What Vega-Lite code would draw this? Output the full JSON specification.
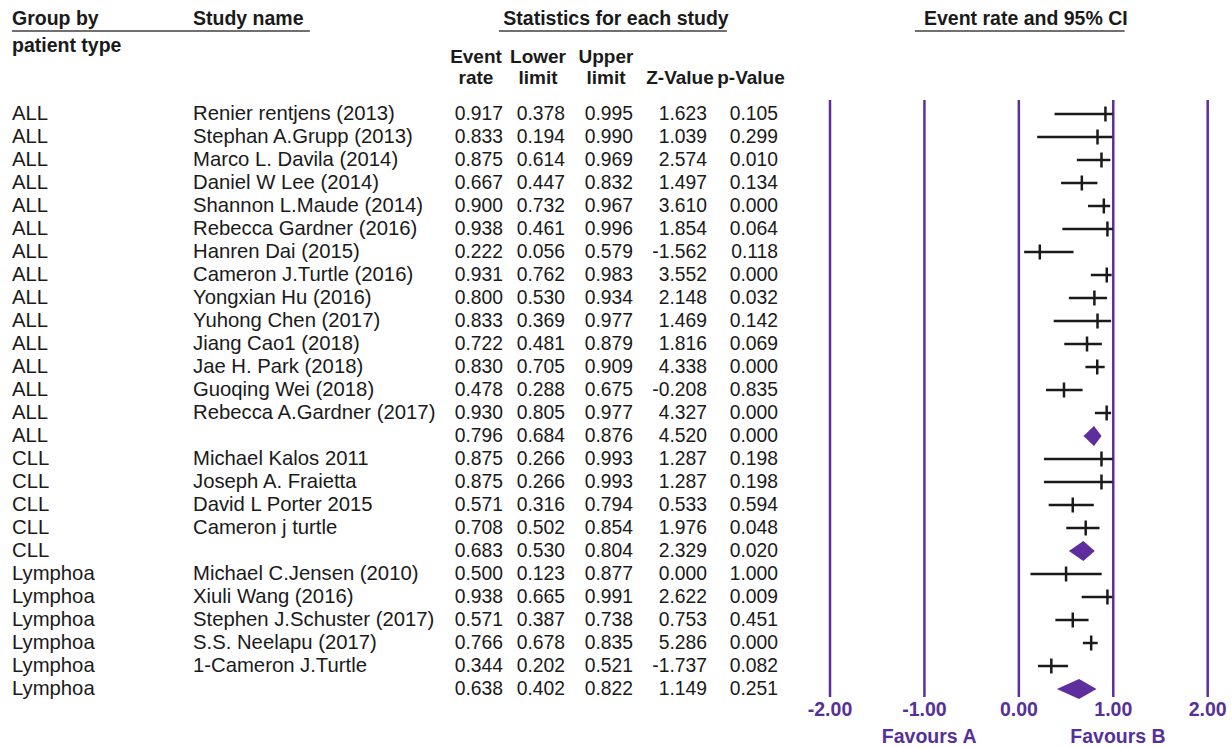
{
  "$schema": "https://vega.github.io/schema/vega-lite/v6.json",
  "width": 1232,
  "height": 748,
  "autosize": {"type": "fit", "contains": "padding"},
  "padding": 0,
  "background": "white",
  "config": {
    "view": {"stroke": null},
    "text": {"font": "Liberation Sans"},
    "locale": {"number": {"decimal": ".", "thousands": ",", "grouping": [3], "currency": ["$", ""], "minus": "-"}}
  },
  "datasets": {
    "studies": [
      {"n": 1, "kind": "study", "group": "ALL", "study": "Renier rentjens (2013)", "rate": 0.917, "lower": 0.378, "upper": 0.995, "z": 1.623, "p": 0.105},
      {"n": 2, "kind": "study", "group": "ALL", "study": "Stephan A.Grupp (2013)", "rate": 0.833, "lower": 0.194, "upper": 0.990, "z": 1.039, "p": 0.299},
      {"n": 3, "kind": "study", "group": "ALL", "study": "Marco L. Davila (2014)", "rate": 0.875, "lower": 0.614, "upper": 0.969, "z": 2.574, "p": 0.010},
      {"n": 4, "kind": "study", "group": "ALL", "study": "Daniel W Lee (2014)", "rate": 0.667, "lower": 0.447, "upper": 0.832, "z": 1.497, "p": 0.134},
      {"n": 5, "kind": "study", "group": "ALL", "study": "Shannon L.Maude (2014)", "rate": 0.900, "lower": 0.732, "upper": 0.967, "z": 3.610, "p": 0.000},
      {"n": 6, "kind": "study", "group": "ALL", "study": "Rebecca Gardner (2016)", "rate": 0.938, "lower": 0.461, "upper": 0.996, "z": 1.854, "p": 0.064},
      {"n": 7, "kind": "study", "group": "ALL", "study": "Hanren Dai (2015)", "rate": 0.222, "lower": 0.056, "upper": 0.579, "z": -1.562, "p": 0.118},
      {"n": 8, "kind": "study", "group": "ALL", "study": "Cameron J.Turtle (2016)", "rate": 0.931, "lower": 0.762, "upper": 0.983, "z": 3.552, "p": 0.000},
      {"n": 9, "kind": "study", "group": "ALL", "study": "Yongxian Hu (2016)", "rate": 0.800, "lower": 0.530, "upper": 0.934, "z": 2.148, "p": 0.032},
      {"n": 10, "kind": "study", "group": "ALL", "study": "Yuhong Chen (2017)", "rate": 0.833, "lower": 0.369, "upper": 0.977, "z": 1.469, "p": 0.142},
      {"n": 11, "kind": "study", "group": "ALL", "study": "Jiang Cao1 (2018)", "rate": 0.722, "lower": 0.481, "upper": 0.879, "z": 1.816, "p": 0.069},
      {"n": 12, "kind": "study", "group": "ALL", "study": "Jae H. Park (2018)", "rate": 0.830, "lower": 0.705, "upper": 0.909, "z": 4.338, "p": 0.000},
      {"n": 13, "kind": "study", "group": "ALL", "study": "Guoqing Wei (2018)", "rate": 0.478, "lower": 0.288, "upper": 0.675, "z": -0.208, "p": 0.835},
      {"n": 14, "kind": "study", "group": "ALL", "study": "Rebecca A.Gardner (2017)", "rate": 0.930, "lower": 0.805, "upper": 0.977, "z": 4.327, "p": 0.000},
      {"n": 15, "kind": "summary", "group": "ALL", "study": "", "rate": 0.796, "lower": 0.684, "upper": 0.876, "z": 4.520, "p": 0.000},
      {"n": 16, "kind": "study", "group": "CLL", "study": "Michael Kalos 2011", "rate": 0.875, "lower": 0.266, "upper": 0.993, "z": 1.287, "p": 0.198},
      {"n": 17, "kind": "study", "group": "CLL", "study": "Joseph A. Fraietta", "rate": 0.875, "lower": 0.266, "upper": 0.993, "z": 1.287, "p": 0.198},
      {"n": 18, "kind": "study", "group": "CLL", "study": "David L Porter 2015", "rate": 0.571, "lower": 0.316, "upper": 0.794, "z": 0.533, "p": 0.594},
      {"n": 19, "kind": "study", "group": "CLL", "study": "Cameron j turtle", "rate": 0.708, "lower": 0.502, "upper": 0.854, "z": 1.976, "p": 0.048},
      {"n": 20, "kind": "summary", "group": "CLL", "study": "", "rate": 0.683, "lower": 0.530, "upper": 0.804, "z": 2.329, "p": 0.020},
      {"n": 21, "kind": "study", "group": "Lymphoa", "study": "Michael C.Jensen (2010)", "rate": 0.500, "lower": 0.123, "upper": 0.877, "z": 0.000, "p": 1.000},
      {"n": 22, "kind": "study", "group": "Lymphoa", "study": "Xiuli Wang (2016)", "rate": 0.938, "lower": 0.665, "upper": 0.991, "z": 2.622, "p": 0.009},
      {"n": 23, "kind": "study", "group": "Lymphoa", "study": "Stephen J.Schuster (2017)", "rate": 0.571, "lower": 0.387, "upper": 0.738, "z": 0.753, "p": 0.451},
      {"n": 24, "kind": "study", "group": "Lymphoa", "study": "S.S. Neelapu (2017)", "rate": 0.766, "lower": 0.678, "upper": 0.835, "z": 5.286, "p": 0.000},
      {"n": 25, "kind": "study", "group": "Lymphoa", "study": "1-Cameron J.Turtle", "rate": 0.344, "lower": 0.202, "upper": 0.521, "z": -1.737, "p": 0.082},
      {"n": 26, "kind": "summary", "group": "Lymphoa", "study": "", "rate": 0.638, "lower": 0.402, "upper": 0.822, "z": 1.149, "p": 0.251}
    ],
    "cols": [
      {"key": "rate", "col": 2, "h1": "Event", "h2": "rate"},
      {"key": "lower", "col": 3, "h1": "Lower", "h2": "limit"},
      {"key": "upper", "col": 4, "h1": "Upper", "h2": "limit"},
      {"key": "z", "col": 5, "h1": "", "h2": "Z-Value"},
      {"key": "p", "col": 6, "h1": "", "h2": "p-Value"}
    ],
    "ticks": [
      {"v": -2, "label": "-2.00"},
      {"v": -1, "label": "-1.00"},
      {"v": 0, "label": "0.00"},
      {"v": 1, "label": "1.00"},
      {"v": 2, "label": "2.00"}
    ],
    "one": [{}]
  },
  "resolve": {"scale": {"x": "independent"}},
  "layer": [
    {
      "layer": [
        {
          "data": {"name": "studies"},
          "mark": {"type": "text", "align": "left", "baseline": "middle", "fontSize": 20.3, "color": "#1a1a1a"},
          "encoding": {
            "x": {"datum": 0, "type": "quantitative", "scale": {"domain": [0, 1, 2, 3, 4, 5, 6], "range": [12, 193, 503, 565, 633, 707, 778], "zero": false, "nice": false}, "axis": null},
            "y": {"field": "n", "type": "quantitative", "scale": {"domain": [-3.9565, 28.565], "reverse": true, "zero": false, "nice": false}, "axis": null},
            "text": {"field": "group"}
          }
        },
        {
          "data": {"name": "studies"},
          "mark": {"type": "text", "align": "left", "baseline": "middle", "fontSize": 20.3, "color": "#1a1a1a"},
          "encoding": {
            "x": {"datum": 1, "type": "quantitative", "axis": null},
            "y": {"field": "n", "type": "quantitative", "axis": null},
            "text": {"field": "study"}
          }
        },
        {
          "data": {"name": "studies"},
          "transform": [
            {"fold": ["rate", "lower", "upper", "z", "p"], "as": ["key", "val"]},
            {"lookup": "key", "from": {"data": {"name": "cols"}, "key": "key", "fields": ["col"]}}
          ],
          "mark": {"type": "text", "align": "right", "baseline": "middle", "fontSize": 19.3, "color": "#1a1a1a"},
          "encoding": {
            "x": {"field": "col", "type": "quantitative", "axis": null},
            "y": {"field": "n", "type": "quantitative", "axis": null},
            "text": {"field": "val", "type": "quantitative", "format": ".3f"}
          }
        },
        {
          "data": {"name": "cols"},
          "mark": {"type": "text", "align": "center", "baseline": "middle", "fontSize": 19, "fontWeight": "bold", "dx": -27, "color": "#1a1a1a"},
          "encoding": {
            "x": {"field": "col", "type": "quantitative", "axis": null},
            "y": {"datum": -1.457, "type": "quantitative", "axis": null},
            "text": {"field": "h1"}
          }
        },
        {
          "data": {"name": "cols"},
          "mark": {"type": "text", "align": "center", "baseline": "middle", "fontSize": 19, "fontWeight": "bold", "dx": -27, "color": "#1a1a1a"},
          "encoding": {
            "x": {"field": "col", "type": "quantitative", "axis": null},
            "y": {"datum": -0.565, "type": "quantitative", "axis": null},
            "text": {"field": "h2"}
          }
        },
        {
          "data": {"name": "one"},
          "mark": {"type": "text", "align": "left", "baseline": "middle", "fontSize": 19.5, "fontWeight": "bold", "color": "#1a1a1a"},
          "encoding": {
            "x": {"datum": 0, "type": "quantitative", "axis": null},
            "y": {"datum": -3.12, "type": "quantitative", "axis": null},
            "text": {"value": "Group by"}
          }
        },
        {
          "data": {"name": "one"},
          "mark": {"type": "text", "align": "left", "baseline": "middle", "fontSize": 19.5, "fontWeight": "bold", "color": "#1a1a1a"},
          "encoding": {
            "x": {"datum": 0, "type": "quantitative", "axis": null},
            "y": {"datum": -1.96, "type": "quantitative", "axis": null},
            "text": {"value": "patient type"}
          }
        },
        {
          "data": {"name": "one"},
          "mark": {"type": "text", "align": "left", "baseline": "middle", "fontSize": 19.5, "fontWeight": "bold", "color": "#1a1a1a"},
          "encoding": {
            "x": {"datum": 1, "type": "quantitative", "axis": null},
            "y": {"datum": -3.12, "type": "quantitative", "axis": null},
            "text": {"value": "Study name"}
          }
        },
        {
          "data": {"name": "one"},
          "mark": {"type": "text", "align": "center", "baseline": "middle", "fontSize": 19.5, "fontWeight": "bold", "color": "#1a1a1a"},
          "encoding": {
            "x": {"datum": 3.75, "type": "quantitative", "axis": null},
            "y": {"datum": -3.12, "type": "quantitative", "axis": null},
            "text": {"value": "Statistics for each study"}
          }
        },
        {
          "data": {"name": "one"},
          "mark": {"type": "rule", "strokeWidth": 1.5, "color": "#404040"},
          "encoding": {
            "x": {"datum": 0, "type": "quantitative", "axis": null},
            "x2": {"datum": 1.377},
            "y": {"datum": -2.61, "type": "quantitative", "axis": null}
          }
        },
        {
          "data": {"name": "one"},
          "mark": {"type": "rule", "strokeWidth": 1.5, "color": "#404040"},
          "encoding": {
            "x": {"datum": 1.987, "type": "quantitative", "axis": null},
            "x2": {"datum": 5.28},
            "y": {"datum": -2.61, "type": "quantitative", "axis": null}
          }
        }
      ]
    },
    {
      "layer": [
        {
          "data": {"name": "ticks"},
          "mark": {"type": "rule", "strokeWidth": 2.5, "color": "#5d2e9c"},
          "encoding": {
            "x": {"field": "v", "type": "quantitative", "scale": {"domain": [-2, 2], "range": [830, 1207.7], "zero": false, "nice": false}, "axis": null},
            "y": {"datum": 0.391, "type": "quantitative", "axis": null},
            "y2": {"datum": 26.35}
          }
        },
        {
          "data": {"name": "ticks"},
          "mark": {"type": "text", "align": "center", "baseline": "middle", "fontSize": 19.5, "fontWeight": "bold", "color": "#55309a"},
          "encoding": {
            "x": {"field": "v", "type": "quantitative", "axis": null},
            "y": {"datum": 26.91, "type": "quantitative", "axis": null},
            "text": {"field": "label"}
          }
        },
        {
          "data": {"name": "studies"},
          "transform": [{"filter": "datum.kind === 'study'"}],
          "mark": {"type": "rule", "strokeWidth": 2.5, "color": "#1a1a1a"},
          "encoding": {
            "x": {"field": "lower", "type": "quantitative", "axis": null},
            "x2": {"field": "upper"},
            "y": {"field": "n", "type": "quantitative", "axis": null}
          }
        },
        {
          "data": {"name": "studies"},
          "transform": [{"filter": "datum.kind === 'study'"}],
          "mark": {"type": "tick", "orient": "vertical", "size": 15, "thickness": 2.5, "color": "#1a1a1a", "opacity": 1},
          "encoding": {
            "x": {"field": "rate", "type": "quantitative", "axis": null},
            "y": {"field": "n", "type": "quantitative", "axis": null}
          }
        },
        {
          "data": {"name": "studies"},
          "transform": [
            {"filter": "datum.kind === 'summary'"},
            {"fold": ["lower", "rate", "upper"], "as": ["pt", "xv"]}
          ],
          "mark": {
            "type": "area",
            "color": "#5d2e9c",
            "yOffset": {"expr": "datum.pt === 'rate' ? -10 : 0"},
            "y2Offset": {"expr": "datum.pt === 'rate' ? 10 : 0"}
          },
          "encoding": {
            "x": {"field": "xv", "type": "quantitative", "axis": null},
            "y": {"field": "n", "type": "quantitative", "axis": null},
            "y2": {"field": "n"},
            "detail": {"field": "n", "type": "nominal"}
          }
        },
        {
          "data": {"name": "one"},
          "mark": {"type": "text", "align": "center", "baseline": "middle", "fontSize": 19.5, "fontWeight": "bold", "color": "#55309a"},
          "encoding": {
            "x": {"datum": -0.95, "type": "quantitative", "axis": null},
            "y": {"datum": 28.09, "type": "quantitative", "axis": null},
            "text": {"value": "Favours A"}
          }
        },
        {
          "data": {"name": "one"},
          "mark": {"type": "text", "align": "center", "baseline": "middle", "fontSize": 19.5, "fontWeight": "bold", "color": "#55309a"},
          "encoding": {
            "x": {"datum": 1.05, "type": "quantitative", "axis": null},
            "y": {"datum": 28.09, "type": "quantitative", "axis": null},
            "text": {"value": "Favours B"}
          }
        },
        {
          "data": {"name": "one"},
          "mark": {"type": "text", "align": "center", "baseline": "middle", "fontSize": 19.5, "fontWeight": "bold", "color": "#1a1a1a"},
          "encoding": {
            "x": {"datum": 0.074, "type": "quantitative", "axis": null},
            "y": {"datum": -3.12, "type": "quantitative", "axis": null},
            "text": {"value": "Event rate and 95% CI"}
          }
        },
        {
          "data": {"name": "one"},
          "mark": {"type": "rule", "strokeWidth": 1.5, "color": "#404040"},
          "encoding": {
            "x": {"datum": -1.1, "type": "quantitative", "axis": null},
            "x2": {"datum": 1.12},
            "y": {"datum": -2.61, "type": "quantitative", "axis": null}
          }
        }
      ]
    }
  ]
}
